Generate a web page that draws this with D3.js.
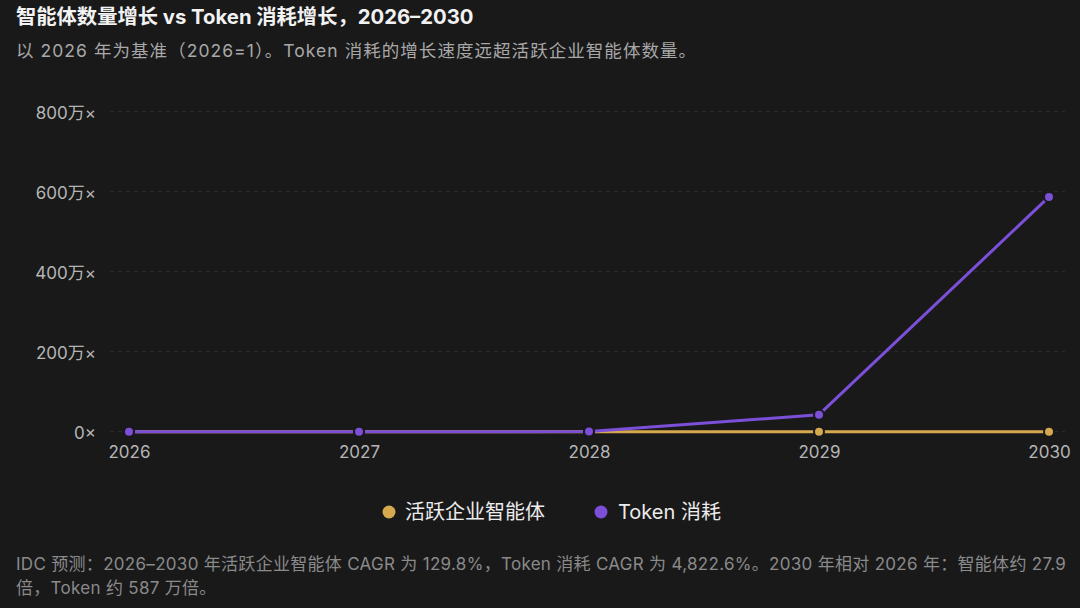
<!DOCTYPE html>
<html><head><meta charset="utf-8">
<script src="https://cdn.jsdelivr.net/npm/d3@7"></script>
<style>
html,body{margin:0;padding:0;background:#19191a;}
svg{display:block;font-family:Inter,"Noto Sans CJK SC",sans-serif;}
</style></head>
<body><svg id="c" width="1080" height="608"></svg>
<script>
const years = [2026, 2027, 2028, 2029, 2030];
const agentValues = [1, 2.3, 5.3, 12.1, 27.9];
const tokenValues = [1, 49, 2400, 425000, 5870000];
const yTicks = [0, 2000000, 4000000, 6000000, 8000000];
const yTickLabels = ["0×", "200万×", "400万×", "600万×", "800万×"];
const seriesNames = ["活跃企业智能体", "Token 消耗"];
const colors = ["#d6a94f", "#7b4fd8"];

const svg = d3.select("#c");
const W = 1080, H = 608;
svg.append("rect").attr("width", W).attr("height", H).attr("fill", "#19191a");

const x = d3.scalePoint().domain(years).range([129, 1049]);
const y = d3.scaleLinear().domain([0, 8000000]).range([431.7, 111.7]);

// title
svg.append("text").attr("x", 16).attr("y", 24).attr("fill", "#f2f2f2")
  .attr("font-size", 20.3).attr("font-weight", 700)
  .text("智能体数量增长 vs Token 消耗增长，2026–2030");
svg.append("text").attr("x", 16).attr("y", 57).attr("fill", "#a8a8a8")
  .attr("font-size", 17.5).attr("letter-spacing", 1.05)
  .text("以 2026 年为基准（2026=1）。Token 消耗的增长速度远超活跃企业智能体数量。");

// grid
const g = svg.append("g");
g.selectAll("line.grid").data(yTicks).join("line")
  .attr("x1", 110).attr("x2", 1065)
  .attr("y1", d => y(d)).attr("y2", d => y(d))
  .attr("stroke", "#2f2f2f").attr("stroke-width", 1)
  .attr("stroke-dasharray", "4,4");

// y axis
const yAxis = d3.axisLeft(y).tickValues(yTicks)
  .tickFormat((d, i) => yTickLabels[i]).tickSize(0).tickPadding(0);
const ya = svg.append("g").attr("transform", "translate(96,0)").call(yAxis);
ya.select(".domain").remove();
ya.selectAll("text").attr("fill", "#b5b5b5").attr("font-size", 17)
  .attr("font-family", 'Inter,"Noto Sans CJK SC",sans-serif').attr("dy", "0.4em");

// x axis
const xAxis = d3.axisBottom(x).tickSize(0).tickPadding(0).tickFormat(d3.format("d"));
const xa = svg.append("g").attr("transform", "translate(0,445)").call(xAxis);
xa.select(".domain").remove();
xa.selectAll("text").attr("fill", "#b5b5b5").attr("font-size", 17)
  .attr("font-family", 'Inter,"Noto Sans CJK SC",sans-serif').attr("dy", "0.75em");

// series
const series = [agentValues, tokenValues];
const line = d3.line().x((d, i) => x(years[i])).y(d => y(d));
series.forEach((vals, s) => {
  svg.append("path").datum(vals).attr("d", line)
    .attr("fill", "none").attr("stroke", colors[s]).attr("stroke-width", 3)
    .attr("stroke-linejoin", "round");
});
series.forEach((vals, s) => {
  svg.append("g").selectAll("circle").data(vals).join("circle")
    .attr("cx", (d, i) => x(years[i])).attr("cy", d => y(d)).attr("r", 5)
    .attr("fill", colors[s]).attr("stroke", "#19191a").attr("stroke-width", 2);
});

// legend
const leg = [{x: 389, tx: 405}, {x: 601, tx: 618}];
leg.forEach((p, i) => {
  svg.append("circle").attr("cx", p.x).attr("cy", 512).attr("r", 6.5).attr("fill", colors[i]);
  svg.append("text").attr("x", p.tx).attr("y", 519).attr("fill", "#ececec")
    .attr("font-size", 20).text(seriesNames[i]);
});

// footer
const foot = ["IDC 预测：2026–2030 年活跃企业智能体 CAGR 为 129.8%，Token 消耗 CAGR 为 4,822.6%。2030 年相对 2026 年：智能体约 27.9",
              "倍，Token 约 587 万倍。"];
foot.forEach((t, i) => {
  svg.append("text").attr("x", 16).attr("y", 570 + i * 24).attr("fill", "#8a8a8a")
    .attr("font-size", 17).attr("letter-spacing", 0.3).text(t);
});
</script></body></html>
